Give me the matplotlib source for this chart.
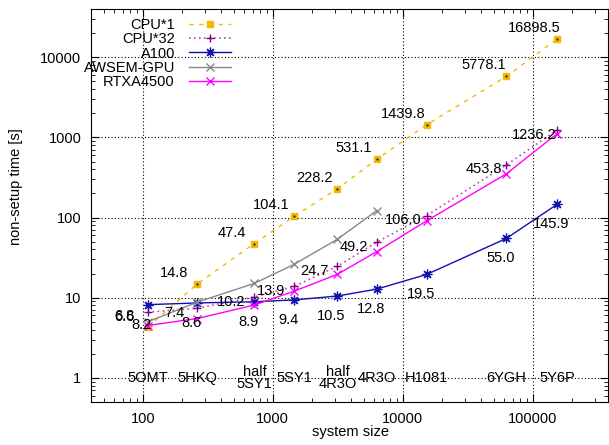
import matplotlib.pyplot as plt
import numpy as np

plt.rcParams['font.family'] = ['Liberation Sans', 'DejaVu Sans']
plt.rcParams['font.size'] = 10.5

# system sizes and the pdb names shown along the bottom
size = [109, 262, 723, 1469, 3150, 6310, 15270, 62900, 153800]
names = ["5OMT", "5HKQ", "half\n5SY1", "5SY1", "half\n4R3O", "4R3O", "H1081", "6YGH", "5Y6P"]

cpu1 = [4.3, 14.8, 47.4, 104.1, 228.2, 531.1, 1439.8, 5778.1, 16898.5]
cpu1_lbl = ["6.8", "14.8", "47.4", "104.1", "228.2", "531.1", "1439.8", "5778.1", "16898.5"]
cpu32 = [6.6, 7.4, 10.2, 13.9, 24.7, 49.2, 106.0, 453.8, 1236.2]
a100 = [8.2, 8.6, 8.9, 9.4, 10.5, 12.8, 19.5, 55.0, 145.9]
awsem = [5.0, 8.8, 15.1, 26.2, 53.7, 122.0]
rtx = [4.5, 5.5, 8.1, 12.1, 19.6, 37.6, 91.0, 352.0, 1110.0]

fig = plt.figure(figsize=(6.09, 4.45), dpi=100)
ax = fig.add_axes([91/609, 43/445, 517/609, 393/445])

ax.plot(size, cpu1, color="#f5b800", ls=(0, (3, 4)), lw=1, marker="s", ms=4.5, label="CPU*1")
ax.plot(size, cpu1, ls="none", marker=".", ms=1.5, color="#333333")
ax.plot(size, cpu32, color="#c040c0", ls=(0, (1, 2)), lw=1.2, marker="+", ms=6,
        mec="#800080", mew=1, label="CPU*32")
ax.plot(size, a100, color="#1010b0", lw=1, marker=(8, 2, 0), ms=7, mew=0.9, label="A100")
ax.plot(size[:len(awsem)], awsem, color="#888888", lw=1, marker="x", ms=5.5, mew=1, label="AWSEM-GPU")
ax.plot(size, rtx, color="#ff00ff", lw=1, marker="x", ms=6, mew=1, label="RTXA4500")

# value labels
for x, y, t in zip(size, cpu1, cpu1_lbl):
    ax.annotate(t, (x, y), xytext=(-23, 11), textcoords="offset pixels", ha="center", va="center")
for x, y in zip(size, cpu32):
    ax.annotate(f"{y:.1f}", (x, y), xytext=(-23, -4.5), textcoords="offset pixels", ha="center", va="center")
for x, y in zip(size, a100):
    ax.annotate(f"{y:.1f}", (x, y), xytext=(-6, -20), textcoords="offset pixels", ha="center", va="center")

for x, n in zip(size, names):
    ax.text(x, 1, n, ha="center", va="center", linespacing=0.85)

ax.set_xscale("log")
ax.set_yscale("log")
ax.set_xlim(40, 380000)
ax.set_ylim(0.5, 40000)
ax.set_xticks([100, 1000, 10000, 100000])
ax.set_xticklabels(["100", "1000", "10000", "100000"])
ax.set_yticks([1, 10, 100, 1000, 10000])
ax.set_yticklabels(["1", "10", "100", "1000", "10000"])
ax.tick_params(which="both", direction="in", top=True, right=True)
ax.tick_params(which="major", length=6, pad=7)
ax.tick_params(which="minor", length=3)
ax.grid(True, which="major", color="black", ls=(0, (1, 2)), lw=0.8)

fig.text(16/609, 1 - 187/445, "non-setup time [s]", rotation=90, ha="center", va="center")
fig.text(350/609, 1 - 432/445, "system size", ha="center", va="center")

leg = ax.legend(loc="upper right", bbox_to_anchor=(231/609, 1 - 18/445), bbox_transform=fig.transFigure,
                frameon=False, markerfirst=False, handlelength=2.9, handletextpad=0.95,
                labelspacing=0.02, borderpad=0, borderaxespad=0)

fig.savefig("out.png", dpi=100)
